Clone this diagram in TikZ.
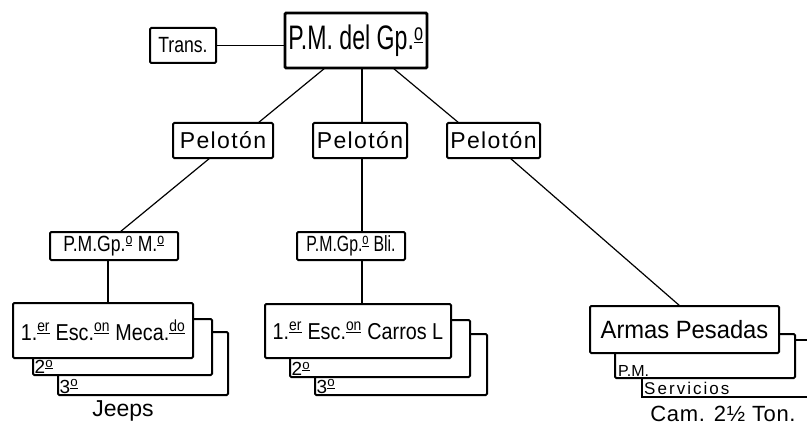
\documentclass[tikz,border=0pt]{standalone}
\usepackage{fontspec}
\setmainfont{Liberation Sans}
\newfontfamily\pmfont[FakeStretch=0.68]{Liberation Sans}
\newfontfamily\transfont[FakeStretch=0.8]{Liberation Sans}
\newfontfamily\mfont[FakeStretch=0.8]{Liberation Sans}
\newfontfamily\blifont[FakeStretch=0.72]{Liberation Sans}
\newfontfamily\escfont[FakeStretch=0.86]{Liberation Sans}
\newfontfamily\armasfont[FakeStretch=0.95]{Liberation Sans}
\newfontfamily\pelfont[LetterSpace=6]{Liberation Sans}
\newfontfamily\servfont[LetterSpace=12]{Liberation Sans}
\newfontfamily\camfont[LetterSpace=3]{Liberation Sans}
\newcommand\supu[1]{\textsuperscript{\underline{#1}}}
\begin{document}
\begin{tikzpicture}[x=1pt,y=-1pt,
  box/.style={draw,line width=2pt,fill=white,rounded corners=1.2pt,inner sep=0pt,outer sep=0pt,anchor=north west},
  link/.style={line width=1.2pt},
  lbl/.style={inner sep=1.5pt,anchor=south west}]
\useasboundingbox (0,0) rectangle (807,428);
% top
\node[box,minimum width=66pt,minimum height=35pt,font=\fontsize{22}{22}\transfont] (trans) at (150,28) {Trans.};
\node[box,line width=2.8pt,minimum width=142pt,minimum height=55pt,font=\fontsize{34}{34}\pmfont] (pm) at (285,13) {P.M. del Gp.\supu{o}};
% pelotones
\node[box,minimum width=100pt,minimum height=35pt,font=\fontsize{23}{23}\pelfont] (p1) at (173,123) {Pelotón};
\node[box,minimum width=94pt,minimum height=35pt,font=\fontsize{23}{23}\pelfont] (p2) at (313,123) {Pelotón};
\node[box,minimum width=93pt,minimum height=35pt,font=\fontsize{23}{23}\pelfont] (p3) at (447,123) {Pelotón};
% P.M. boxes
\node[box,minimum width=128pt,minimum height=28pt,font=\fontsize{22}{22}\mfont] (pmm) at (50,232) {P.M.Gp.\supu{o} M.\supu{o}};
\node[box,minimum width=108pt,minimum height=28pt,font=\fontsize{22}{22}\blifont] (bli) at (297,232) {P.M.Gp.\supu{o} Bli.};
% Escuadron Mecanizado stack
\node[box,minimum width=170pt,minimum height=63pt] (mecac) at (58,332) {};
\node[lbl,font=\fontsize{19}{19}\selectfont] (mecac3) at (mecac.south west) {3\supu{o}};
\node[box,minimum width=179pt,minimum height=56pt] (mecab) at (33,319) {};
\node[lbl,font=\fontsize{19}{19}\selectfont] (mecab2) at (mecab.south west) {2\supu{o}};
\node[box,minimum width=180pt,minimum height=55pt,font=\fontsize{23}{23}\escfont] (meca) at (13,303) {1.\supu{er} Esc.\supu{on} Meca.\supu{do}};
\node[font=\fontsize{23}{23}\selectfont] (jeeps) at (123,411) {Jeeps};
% Escuadron Carros stack
\node[box,minimum width=172pt,minimum height=61pt] (carrosc) at (315,334) {};
\node[lbl,font=\fontsize{19}{19}\selectfont] (carrosc3) at (carrosc.south west) {3\supu{o}};
\node[box,minimum width=180pt,minimum height=57pt] (carrosb) at (290,320) {};
\node[lbl,font=\fontsize{19}{19}\selectfont] (carrosb2) at (carrosb.south west) {2\supu{o}};
\node[box,minimum width=186pt,minimum height=54pt,font=\fontsize{23}{23}\escfont] (carros) at (265,304) {1.\supu{er} Esc.\supu{on} Carros L};
% Armas Pesadas stack
\draw[line width=2pt] (807,340) -- (642,340) -- (642,397) -- (807,397);
\node[inner sep=1pt,anchor=south west,font=\fontsize{17}{17}\servfont] (serv) at (643,396) {Servicios};
\node[box,minimum width=180pt,minimum height=44pt] (armasb) at (615,334) {};
\node[lbl,inner sep=1pt,font=\fontsize{16}{16}\selectfont] (armasbpm) at ([xshift=2pt]armasb.south west) {P.M.};
\node[box,minimum width=189pt,minimum height=47pt,font=\fontsize{25}{25}\armasfont] (armas) at (590,306) {Armas Pesadas};
\node[font=\fontsize{22}{22}\camfont] (cam) at (723,414) {Cam. 2½ Ton.};
% connectors
\draw[link] (trans.east) -- (pm.west |- trans.east);
\draw[link] ([xshift=-31pt]pm.south) -- ([xshift=35pt]p1.north);
\draw[link] ([xshift=6pt]pm.south) -- ([xshift=2pt]p2.north);
\draw[link] ([xshift=37pt]pm.south) -- ([xshift=-34.5pt]p3.north);
\draw[link] ([xshift=-13pt]p1.south) -- ([xshift=6pt]pmm.north);
\draw[link] ([xshift=2pt]p2.south) -- ([xshift=11pt]bli.north);
\draw[link] ([xshift=-6pt]pmm.south) -- ([xshift=5pt]meca.north);
\draw[link] ([xshift=11pt]bli.south) -- ([xshift=4pt]carros.north);
\draw[link] ([xshift=16.5pt]p3.south) -- ([xshift=-4.5pt]armas.north);
\end{tikzpicture}
\end{document}
